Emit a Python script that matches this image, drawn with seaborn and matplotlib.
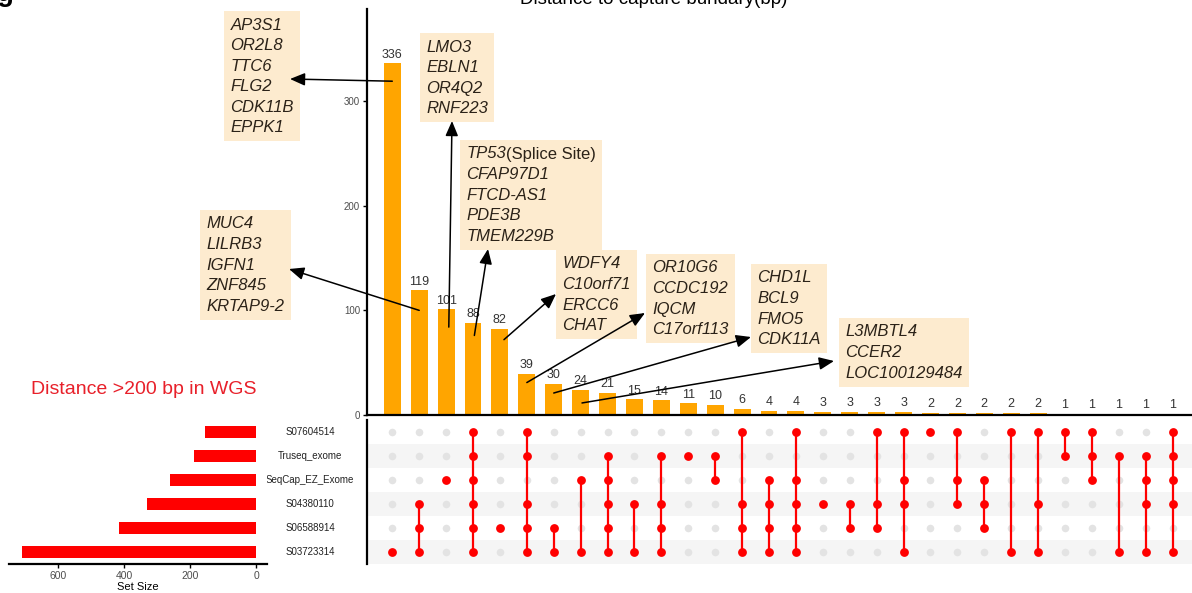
import numpy as np
import pandas as pd
import matplotlib
matplotlib.use("Agg")
import matplotlib.pyplot as plt
import seaborn as sns
from matplotlib.offsetbox import TextArea, VPacker, HPacker, AnnotationBbox
from matplotlib.transforms import blended_transform_factory

sns.set_theme(style="white")
plt.rcParams["font.family"] = ["Liberation Sans", "DejaVu Sans"]

# ---------------- data ----------------
set_names = ["S07604514", "Truseq_exome", "SeqCap_EZ_Exome",
             "S04380110", "S06588914", "S03723314"]

intersection_sizes = [336, 119, 101, 88, 82, 39, 30, 24, 21, 15, 14, 11, 10, 6, 4,
                      4, 3, 3, 3, 3, 2, 2, 2, 2, 2, 1, 1, 1, 1, 1]

# which sets (indices into set_names) take part in each intersection
memberships = [
    [5], [3, 4, 5], [2], [0, 1, 2, 3, 4, 5], [4], [0, 1, 3, 4, 5], [4, 5], [2, 5],
    [1, 2, 3, 4, 5], [3, 5], [1, 3, 4, 5], [1], [1, 2], [0, 3, 4, 5], [2, 3, 4, 5],
    [0, 2, 3, 4, 5], [3], [3, 4], [0, 3, 4], [0, 2, 3, 5], [0], [0, 2, 3], [2, 3, 4],
    [0, 5], [0, 3, 5], [0, 1], [0, 1, 2], [1, 5], [1, 2, 3, 5], [0, 1, 2, 3, 5],
]

# set size = sum of the intersections each set belongs to
set_sizes = [sum(s for s, m in zip(intersection_sizes, memberships) if k in m)
             for k in range(len(set_names))]

# gene call-outs: (genes, intersection column)
gene_notes = [
    (["AP3S1", "OR2L8", "TTC6", "FLG2", "CDK11B", "EPPK1"], 0),
    (["MUC4", "LILRB3", "IGFN1", "ZNF845", "KRTAP9-2"], 1),
    (["LMO3", "EBLN1", "OR4Q2", "RNF223"], 2),
    (["TP53(Splice Site)", "CFAP97D1", "FTCD-AS1", "PDE3B", "TMEM229B"], 3),
    (["WDFY4", "C10orf71", "ERCC6", "CHAT"], 4),
    (["OR10G6", "CCDC192", "IQCM", "C17orf113"], 5),
    (["CHD1L", "BCL9", "FMO5", "CDK11A"], 6),
    (["L3MBTL4", "CCER2", "LOC100129484"], 7),
]

# ---------------- layout helpers ----------------
W, H = 1192, 593
fig = plt.figure(figsize=(W / 100, H / 100), dpi=100)


def fx(px):
    return px / W


def fy(py):
    return 1 - py / H


n = len(intersection_sizes)
xlim = (-0.94, 29.72)

# ---------------- intersection bars ----------------
ax_bar = fig.add_axes([fx(367), fy(415), fx(1192) - fx(367), fy(9) - fy(415)])
ax_bar.patch.set_visible(False)
ax_bar.set_zorder(10)  # arrows sit on top of the call-out boxes
df_int = pd.DataFrame({"combo": [f"c{i}" for i in range(n)], "size": intersection_sizes})
sns.barplot(data=df_int, x="combo", y="size", color="#FFA500", saturation=1,
            width=0.63, linewidth=0, ax=ax_bar)
ax_bar.bar_label(ax_bar.containers[0], labels=[str(v) for v in intersection_sizes],
                 padding=2, fontsize=9, color="#333333")
ax_bar.set_xlim(*xlim)
ax_bar.set_ylim(0, 388)
ax_bar.set_xlabel("")
ax_bar.set_ylabel("")
ax_bar.set_xticks([])
ax_bar.set_yticks([0, 100, 200, 300])
ax_bar.tick_params(axis="y", labelsize=7, labelcolor="#4d4d4d", length=3, width=1,
                   color="black", left=True, pad=2)
for side in ("top", "right"):
    ax_bar.spines[side].set_visible(False)
for side in ("left", "bottom"):
    ax_bar.spines[side].set_color("black")
    ax_bar.spines[side].set_linewidth(1.6)

# ---------------- matrix ----------------
ax_m = fig.add_axes([fx(367), fy(564), fx(1192) - fx(367), 144 / H])
for r in (1, 3, 5):
    ax_m.axhspan(r - 0.5, r + 0.5, color="#f5f5f5", zorder=0, lw=0)

grid = pd.DataFrame([(i, r) for i in range(n) for r in range(len(set_names))],
                    columns=["col", "row"])
sns.scatterplot(data=grid, x="col", y="row", color="#e3e3e3", s=30, linewidth=0,
                ax=ax_m, zorder=2, legend=False)
active = pd.DataFrame([(i, r) for i, m in enumerate(memberships) for r in m],
                      columns=["col", "row"])
for i, m in enumerate(memberships):
    if len(m) > 1:
        ax_m.vlines(i, min(m), max(m), color="red", lw=1.6, zorder=3)
sns.scatterplot(data=active, x="col", y="row", color="red", s=40, linewidth=0,
                ax=ax_m, zorder=4, legend=False)
ax_m.set_xlim(*xlim)
ax_m.set_ylim(5.5, -0.5)
ax_m.set_xticks([])
ax_m.set_yticks([])
ax_m.set_xlabel("")
ax_m.set_ylabel("")
for side in ("top", "right", "bottom"):
    ax_m.spines[side].set_visible(False)
ax_m.spines["left"].set_color("black")
ax_m.spines["left"].set_linewidth(1.6)

# set names between the two panels
trans = blended_transform_factory(fig.transFigure, ax_m.transData)
for r, name in enumerate(set_names):
    ax_m.text(fx(310), r, name, transform=trans, ha="center", va="center",
              fontsize=7, color="#222222")

# ---------------- set sizes ----------------
ax_s = fig.add_axes([fx(9), fy(564), fx(267) - fx(9), 144 / H])
df_set = pd.DataFrame({"set": set_names, "size": set_sizes})
sns.barplot(data=df_set, y="set", x="size", orient="h", color="red", saturation=1,
            width=0.5, linewidth=0, ax=ax_s)
ax_s.set_xlim(750, -33)
ax_s.set_ylim(5.5, -0.5)
ax_s.set_yticks([])
ax_s.set_ylabel("")
ax_s.set_xticks([600, 400, 200, 0])
ax_s.tick_params(axis="x", labelsize=7.5, labelcolor="#4d4d4d", length=3, width=1,
                 color="black", bottom=True, pad=2)
ax_s.set_xlabel("Set Size", fontsize=8, labelpad=1, color="black")
for side in ("top", "right", "left"):
    ax_s.spines[side].set_visible(False)
ax_s.spines["bottom"].set_color("black")
ax_s.spines["bottom"].set_linewidth(1.6)

# ---------------- texts ----------------
fig.text(fx(31), fy(389), "Distance >200 bp in WGS", color="#e8202a",
         fontsize=14, ha="left", va="center")
fig.text(fx(654), fy(4), "Distance to capture bundary(bp)", ha="center",
         va="baseline", fontsize=13.5, color="black")
fig.text(fx(-3), fy(1), "g", fontweight="bold", fontsize=20, ha="left",
         va="baseline", color="black")

# ---------------- gene call-out boxes ----------------
box_pad_px = 5.5
box_tl = [(225, 12), (201, 211), (421, 34), (461, 141),
          (557, 251), (647, 255), (752, 265), (840, 319)]
arrow_heads = [(290, 79), (289, 269), (452, 121), (488, 249),
               (556, 294), (645, 313), (751, 337), (834, 361)]
arrow_tails = [(0.0, 319), (0.0, 100), (0.1, 84), (0.05, 76),
               (0.15, 72), (0.0, 31), (0.0, 21), (0.05, 11.5)]

txt_kw = dict(fontsize=12, color="#2b2218")
for (genes, col), (bx, by), (hx, hy), (tdx, ty) in zip(gene_notes, box_tl,
                                                      arrow_heads, arrow_tails):
    rows = []
    for g in genes:
        if "(" in g:
            name, rest = g.split("(", 1)
            rows.append(HPacker(children=[
                TextArea(name, textprops=dict(style="italic", **txt_kw)),
                TextArea("(" + rest, textprops=dict(**txt_kw))], pad=0, sep=0))
        else:
            rows.append(TextArea(g, textprops=dict(style="italic", **txt_kw)))
    pack = VPacker(children=rows, align="left", pad=0, sep=4.0)
    ab = AnnotationBbox(pack, (bx + box_pad_px, H - by - box_pad_px),
                        xycoords="figure pixels", box_alignment=(0, 1),
                        frameon=True, pad=0.4,
                        bboxprops=dict(facecolor="#fdebcf", edgecolor="none"))
    ab.set_zorder(5)
    fig.add_artist(ab)
    ax_bar.annotate("", xy=(hx, H - hy), xycoords="figure pixels",
                    xytext=(col + tdx, ty), textcoords="data",
                    arrowprops=dict(arrowstyle="-|>,head_length=0.75,head_width=0.32",
                                    color="black", lw=1.1, shrinkA=0, shrinkB=0),
                    annotation_clip=False, zorder=6)

fig.savefig("out.png", dpi=100)
